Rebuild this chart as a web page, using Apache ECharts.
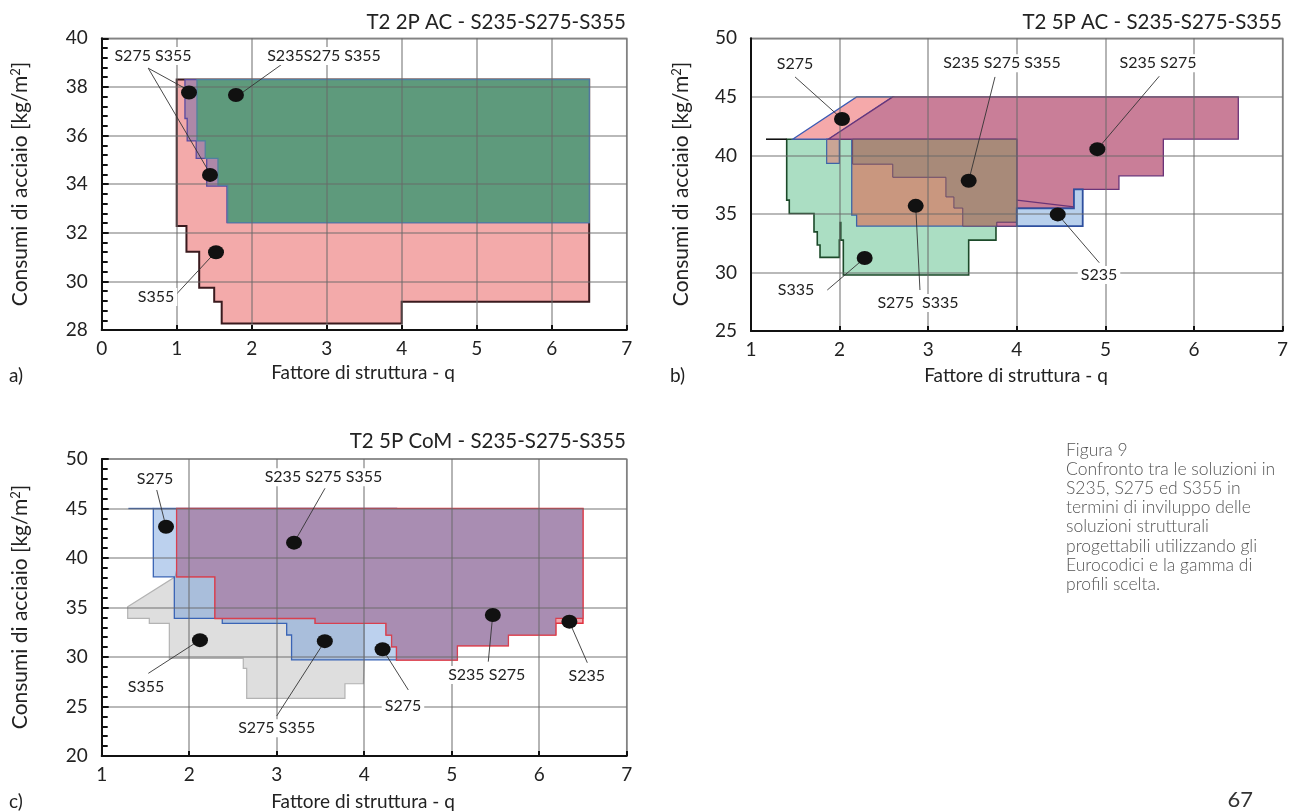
<!DOCTYPE html>
<html><head><meta charset="utf-8">
<script src="https://cdn.jsdelivr.net/npm/echarts@6/dist/echarts.min.js"></script>
<style>html,body{margin:0;padding:0;background:#fff}#c{width:1298px;height:812px}</style>
</head><body><div id="c"></div>
<script>
// ---------- Panel a: T2 2P AC ----------
const aS355 = [[1.0,38.3],[6.5,38.3],[6.5,29.16],[4.0,29.16],[4.0,28.27],[1.6,28.27],[1.6,29.16],[1.5,29.16],[1.5,29.74],[1.3,29.74],[1.3,31.22],[1.13,31.22],[1.13,32.28],[1.0,32.28]];
const aS275S355 = [[1.11,38.3],[6.5,38.3],[6.5,32.42],[1.67,32.42],[1.67,33.92],[1.40,33.92],[1.40,35.06],[1.26,35.06],[1.26,35.78],[1.14,35.78],[1.14,36.7],[1.11,36.7]];
const aAll = [[1.27,38.3],[6.5,38.3],[6.5,32.42],[1.68,32.42],[1.68,33.95],[1.55,33.95],[1.55,35.06],[1.38,35.06],[1.38,35.78],[1.27,35.78]];
const aDots = [[1.164,37.77],[1.79,37.67],[1.444,34.38],[1.524,31.2]];
const aLabels = [[0.684,39.27,'S275 S355'],[2.964,39.27,'S235S275 S355'],[0.724,29.36,'S355']];
const aLeaders = [[0.621,38.77,1.124,37.92],[0.621,38.77,1.417,34.58],[2.497,39.14,1.884,37.79],[0.977,29.41,1.471,31.05]];

// ---------- Panel b: T2 5P AC ----------
const bS335 = [[1.403,41.38],[4.0,41.38],[4.0,33.96],[3.765,33.96],[3.765,32.76],[3.457,32.76],[3.457,29.78],[2.042,29.78],[2.042,32.76],[1.997,32.76],[1.997,31.29],[1.779,31.29],[1.779,32.34],[1.748,32.34],[1.748,33.47],[1.711,33.47],[1.711,35.04],[1.432,35.04],[1.432,36.18],[1.403,36.18]];
const bS275 = [[1.47,41.38],[2.192,45],[2.6,45],[1.873,41.38]];
const bS275S335a = [[1.854,41.38],[1.997,41.38],[1.997,39.31],[1.854,39.31]];
const bS275S335b = [[2.137,41.38],[4.0,41.38],[4.0,33.96],[2.192,33.96],[2.192,34.9],[2.137,34.9]];
const bS235S275 = [[1.873,41.38],[2.6,45],[6.5,45],[6.5,41.38],[5.654,41.38],[5.654,38.25],[5.153,38.25],[5.153,37.09],[4.645,37.09],[4.645,35.5],[4.0,35.5],[4.0,41.38]];
const bS235S275strip = [[3.773,34.3],[4.0,34.3],[4.0,33.96],[3.773,33.96]];
const bAll = [[2.147,41.38],[4.0,41.38],[4.0,34.3],[3.773,34.3],[3.773,33.96],[3.39,33.96],[3.39,35.5],[3.29,35.5],[3.29,36.45],[3.2,36.45],[3.2,38.13],[2.6,38.13],[2.6,39.25],[2.147,39.25]];
const bS235 = [[4.0,35.47],[4.0,33.96],[4.744,33.96],[4.744,37.09],[4.645,37.09],[4.645,35.47]];
const bDots = [[2.027,43.11],[3.457,37.83],[2.859,35.69],[2.283,31.23],[4.909,40.53],[4.462,34.96]];
const bLabels = [[1.497,47.78,'S275'],[3.833,47.87,'S235 S275 S355'],[5.594,47.87,'S235 S275'],[1.508,28.5,'S335'],[2.885,27.39,'S275  S335'],[4.928,29.78,'S235']];
const bLeaders = [[1.497,46.7,2.027,43.11],[3.754,46.7,3.457,37.83],[5.608,46.76,4.909,40.53],[1.861,28.5,2.283,31.23],[2.907,28.5,2.859,35.69],[4.931,30.83,4.462,34.96]];

// ---------- Panel c: T2 5P CoM ----------
const cS355 = [[1.297,35.08],[1.84,38.1],[2.01,45],[4.0,45],[4.0,29.7],[3.99,27.3],[3.78,27.3],[3.78,25.83],[2.657,25.83],[2.657,28.86],[2.618,28.86],[2.618,29.87],[1.773,29.87],[1.773,33.4],[1.544,33.4],[1.544,33.9],[1.297,33.9]];
const cS275 = [[1.59,45],[4.37,45],[4.37,29.7],[3.17,29.7],[3.17,32.22],[3.114,32.22],[3.114,33.4],[2.378,33.4],[2.378,33.9],[1.83,33.9],[1.83,38.1],[1.59,38.1]];
const cS235 = [[1.857,45],[6.5,45],[6.5,33.4],[6.19,33.4],[6.19,32.22],[5.647,32.22],[5.647,31.14],[5.064,31.14],[5.064,29.7],[4.37,29.7],[4.37,31.04],[4.314,31.04],[4.314,32.22],[4.25,32.22],[4.25,33.4],[3.44,33.4],[3.44,33.9],[2.295,33.9],[2.295,38.1],[1.857,38.1]];
const cS235S275 = [[1.857,45],[6.5,45],[6.5,33.9],[6.19,33.9],[6.19,32.22],[5.647,32.22],[5.647,31.14],[5.064,31.14],[5.064,29.7],[4.37,29.7],[4.37,31.04],[4.314,31.04],[4.314,32.22],[4.25,32.22],[4.25,33.4],[3.44,33.4],[3.44,33.9],[2.295,33.9],[2.295,38.1],[1.857,38.1]];
const cDots = [[1.735,43.16],[3.198,41.55],[2.123,31.7],[3.55,31.6],[4.21,30.78],[5.47,34.24],[6.345,33.57]];
const cLabels = [[1.609,47.95,'S275'],[3.535,48.15,'S235 S275 S355'],[1.506,27.0,'S355'],[3.0,22.8,'S275 S355'],[4.443,25.05,'S275'],[5.4,28.18,'S235 S275'],[6.543,28.11,'S235']];
const cLeaders = [[1.629,46.87,1.735,43.16],[3.552,47.04,3.198,41.55],[1.533,28.35,2.123,31.72],[3.0,24.04,3.552,31.62],[4.504,26.67,4.211,30.78],[5.418,29.53,5.469,34.24],[6.55,29.42,6.344,33.57]];

// ---------- Axes ----------
const axisA = {xMin:0,xMax:7,xStep:1,yMin:28,yMax:40,yStep:2};
const axisB = {xMin:1,xMax:7,xStep:1,yMin:25,yMax:50,yStep:5};
const axisC = {xMin:1,xMax:7,xStep:1,yMin:20,yMax:50,yStep:5};
const titles = ['T2 2P AC - S235-S275-S355','T2 5P AC - S235-S275-S355','T2 5P CoM - S235-S275-S355'];
const xName = 'Fattore di struttura - q';
const caption = ['Figura 9','Confronto tra le soluzioni in','S235, S275 ed S355 in','termini di inviluppo delle','soluzioni strutturali','progettabili utilizzando gli','Eurocodici e la gamma di','profili scelta.'];

const FONT = 'Lato, "DejaVu Sans", sans-serif';
const chart = echarts.init(document.getElementById('c'), null, {renderer:'canvas'});

function xAx(i, ax){
  return {gridIndex:i, type:'value', min:ax.xMin, max:ax.xMax, interval:ax.xStep, z:3,
    axisLine:{show:true, lineStyle:{color:'#111', width:2}},
    axisTick:{show:true, inside:true, length:5, lineStyle:{color:'#111', width:2}},
    axisLabel:{color:'#222', fontSize:19, fontFamily:FONT, margin:9},
    splitLine:{show:true, lineStyle:{color:'rgba(105,105,105,0.62)', width:1.6}}};
}
function yAx(i, ax, minor){
  return {gridIndex:i, type:'value', min:ax.yMin, max:ax.yMax, interval:ax.yStep, z:3,
    axisLine:{show:true, lineStyle:{color:'#111', width:2}},
    axisTick:{show:minor, inside:true, length:7, lineStyle:{color:'#111', width:2}},
    minorTick:{show:minor, splitNumber:5, length:6, lineStyle:{color:'#111', width:2}},
    axisLabel:{color:'#222', fontSize:19, fontFamily:FONT, margin:14},
    splitLine:{show:true, lineStyle:{color:'rgba(105,105,105,0.62)', width:1.6}}};
}

function polyLayer(i, layers, extraLines){
  return {type:'custom', xAxisIndex:i, yAxisIndex:i, z:2, silent:true, animation:false,
    data:[[layers[0].pts[0][0], layers[0].pts[0][1]]],
    renderItem:function(params, api){
      const ch = layers.map(L => ({type:'polygon', shape:{points:L.pts.map(p=>api.coord(p))},
        style:{fill:L.fill, stroke:L.stroke||null, lineWidth:L.lw||0}}));
      (extraLines||[]).forEach(s => ch.push({type:'polyline', shape:{points:s.pts.map(p=>api.coord(p))},
        style:{fill:null, stroke:s.stroke, lineWidth:s.lw}}));
      return {type:'group', children:ch};
    }};
}
function leaderSeries(i, arr){
  return {type:'custom', xAxisIndex:i, yAxisIndex:i, z:4, silent:true, animation:false, data:arr,
    renderItem:function(params, api){
      const p1 = api.coord([api.value(0), api.value(1)]), p2 = api.coord([api.value(2), api.value(3)]);
      return {type:'line', shape:{x1:p1[0],y1:p1[1],x2:p2[0],y2:p2[1]}, style:{stroke:'#333', lineWidth:0.9}};
    }};
}
function dotSeries(i, arr){
  return {type:'scatter', xAxisIndex:i, yAxisIndex:i, z:5, silent:true, animation:false, data:arr,
    symbol:'circle', symbolSize:[16,14], itemStyle:{color:'#111', opacity:1}};
}
function labelSeries(i, arr){
  return {type:'custom', xAxisIndex:i, yAxisIndex:i, z:6, silent:true, animation:false,
    data:arr.map(a=>({value:[a[0],a[1]], name:a[2]})),
    renderItem:function(params, api){
      const p = api.coord([api.value(0), api.value(1)]);
      return {type:'text', x:p[0], y:p[1], style:{text:arr[params.dataIndex][2], align:'center', verticalAlign:'middle',
        font:'16px '+FONT, fill:'#222', backgroundColor:'#fff', padding:[1,3]}};
    }};
}

const option = {
  animation:false,
  grid:[
    {left:101.7, top:38.3, width:525, height:291.7, show:true, borderColor:'#9a9a9a', borderWidth:1.5, backgroundColor:'transparent'},
    {left:751, top:38.3, width:531.6, height:292.7, show:true, borderColor:'#9a9a9a', borderWidth:1.5, backgroundColor:'transparent'},
    {left:101.7, top:459, width:525, height:297, show:true, borderColor:'#9a9a9a', borderWidth:1.5, backgroundColor:'transparent'}
  ],
  xAxis:[xAx(0,axisA), xAx(1,axisB), xAx(2,axisC)],
  yAxis:[yAx(0,axisA,true), yAx(1,axisB,false), yAx(2,axisC,true)],
  series:[
    polyLayer(0, [
      {pts:aS355, fill:'#f3aaaa', stroke:'#3a1a1e', lw:2},
      {pts:aS275S355, fill:'#ad88a8', stroke:'#5a4aa0', lw:1.3},
      {pts:aAll, fill:'#5e9a7c', stroke:'#4f7fa0', lw:1.2}
    ]),
    polyLayer(1, [
      {pts:bS335, fill:'#abdec3', stroke:'#1c4a2a', lw:1.6},
      {pts:bS275, fill:'#f5a9aa', stroke:'#3b5bb5', lw:1.3},
      {pts:bS275S335a, fill:'#caa595', stroke:'#3c64a8', lw:1.2},
      {pts:bS275S335b, fill:'#c9977f', stroke:'#3c64a8', lw:1.3},
      {pts:bS235S275, fill:'#c97e98', stroke:'#6a3478', lw:1.3},
      {pts:bS235S275strip, fill:'#c97e98', stroke:'#6a3478', lw:1},
      {pts:bAll, fill:'#a88a79', stroke:'#6a4a6a', lw:1},
      {pts:bS235, fill:'#b8d0ec', stroke:'#2e4f9e', lw:1.8}
    ], [
      {pts:[[1.169,41.38],[1.403,41.38]], stroke:'#111', lw:1.6},
      {pts:[[2.01,34.33],[2.01,32.76]], stroke:'#1c4a2a', lw:2.2},
      {pts:[[4.0,36.18],[4.645,35.6]], stroke:'#6a3478', lw:1.2}
    ]),
    polyLayer(2, [
      {pts:cS355, fill:'#dedede', stroke:'#b3b3b3', lw:1.2},
      {pts:cS275, fill:'rgba(95,145,215,0.42)', stroke:'#3a64b5', lw:1.3},
      {pts:cS235, fill:'#f1a6ae', stroke:'#e0313f', lw:1.5},
      {pts:cS235S275, fill:'#a98db2', stroke:'#d8404f', lw:1.1}
    ], [
      {pts:[[1.305,45],[1.59,45]], stroke:'#3a64b5', lw:1.4}
    ]),
    leaderSeries(0,aLeaders), leaderSeries(1,bLeaders), leaderSeries(2,cLeaders),
    dotSeries(0,aDots), dotSeries(1,bDots), dotSeries(2,cDots),
    labelSeries(0,aLabels), labelSeries(1,bLabels), labelSeries(2,cLabels)
  ],
  graphic:[]
};

const g = option.graphic;
const tStyle = (t, extra) => Object.assign({text:t, font:'19px '+FONT, fill:'#222'}, extra||{});
const titleFont = '20.5px '+FONT;
g.push({type:'text', x:626, y:22, style:tStyle(titles[0], {align:'right', verticalAlign:'middle', font:titleFont})});
g.push({type:'text', x:1282, y:22, style:tStyle(titles[1], {align:'right', verticalAlign:'middle', font:titleFont})});
g.push({type:'text', x:626, y:441, style:tStyle(titles[2], {align:'right', verticalAlign:'middle', font:titleFont})});
g.push({type:'text', x:363, y:373, style:tStyle(xName, {align:'center', verticalAlign:'middle'})});
g.push({type:'text', x:1016, y:376, style:tStyle(xName, {align:'center', verticalAlign:'middle'})});
g.push({type:'text', x:363, y:802, style:tStyle(xName, {align:'center', verticalAlign:'middle'})});
g.push({type:'text', x:9, y:376, style:tStyle('a)', {align:'left', verticalAlign:'middle'})});
g.push({type:'text', x:670, y:376, style:tStyle('b)', {align:'left', verticalAlign:'middle'})});
g.push({type:'text', x:9, y:802, style:tStyle('c)', {align:'left', verticalAlign:'middle'})});
const yNameRich = {text:'Consumi di acciaio [kg/m{s|2}]', font:'21px '+FONT, fill:'#222', align:'center', verticalAlign:'middle',
  rich:{s:{fontSize:13, fontFamily:FONT, fill:'#222', verticalAlign:'top', padding:[0,0,9,0]}}};
g.push({type:'text', x:20, y:184, rotation:Math.PI/2, style:Object.assign({}, yNameRich)});
g.push({type:'text', x:681, y:184, rotation:Math.PI/2, style:Object.assign({}, yNameRich)});
g.push({type:'text', x:20, y:607, rotation:Math.PI/2, style:Object.assign({}, yNameRich)});
caption.forEach((line, k) => g.push({type:'text', x:1066, y:450 + k*19.2,
  style:{text:line, font:'300 17.5px '+FONT, fill:'#555', align:'left', verticalAlign:'middle'}}));
g.push({type:'text', x:1253, y:800, style:{text:'67', font:'22px '+FONT, fill:'#333', align:'right', verticalAlign:'middle'}});

chart.setOption(option);
</script></body></html>
